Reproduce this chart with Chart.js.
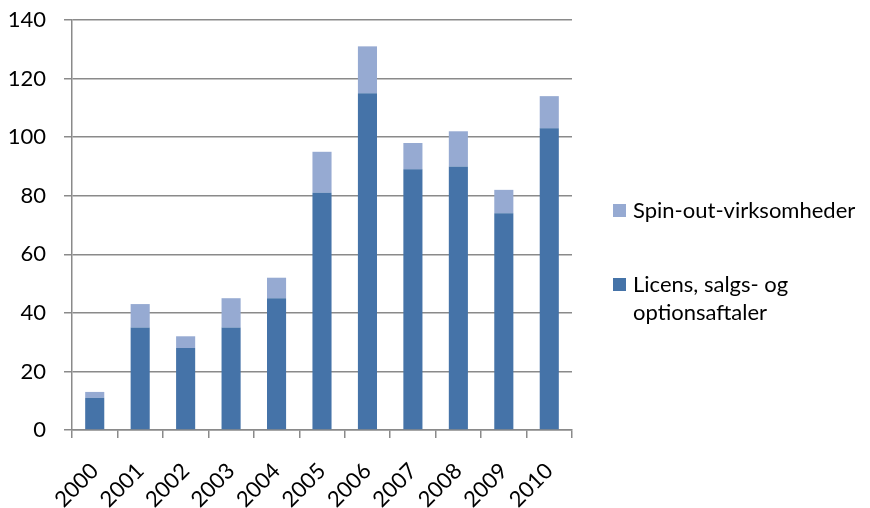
<!DOCTYPE html>
<html lang="da">
<head>
<meta charset="utf-8">
<title>Licenser og spin-outs 2000-2010</title>
<script src="https://cdn.jsdelivr.net/npm/chart.js@4/dist/chart.umd.min.js"></script>
<style>
  html, body { margin: 0; padding: 0; background: #fff; }
  #wrap { position: relative; width: 870px; height: 508px; }
  #chart { position: absolute; left: 0; top: 0; }
  #legend { position: absolute; left: 613px; top: 196px; width: 250px;
            font-family: Lato, "Open Sans", sans-serif; font-size: 22px; color: #000; }
  .item { display: flex; align-items: flex-start; margin-bottom: 46px; line-height: 28px; }
  .box { flex: none; width: 13px; height: 13px; margin: 8px 7px 0 0; }
</style>
</head>
<body>
<div id="wrap">
  <canvas id="chart" width="870" height="508"></canvas>
  <div id="legend"></div>
</div>
<script>
// år på x-aksen
const years = ["2000", "2001", "2002", "2003", "2004", "2005", "2006", "2007", "2008", "2009", "2010"];
// nederste del af søjlen
const licenser = [11, 35, 28, 35, 45, 81, 115, 89, 90, 74, 103];
// øverste del af søjlen
const spinOuts = [2, 8, 4, 10, 7, 14, 16, 9, 12, 8, 11];
const yTicks = [0, 20, 40, 60, 80, 100, 120, 140];

const labelLicens = "Licens, salgs- og optionsaftaler";
const labelSpin = "Spin-out-virksomheder";
const darkBlue = "#4573a8";
const lightBlue = "#96aad2";
const gridGray = "#8a8a8a";
const font = { family: "Lato, 'Open Sans', sans-serif", size: 22 };

const chart = new Chart(document.getElementById("chart"), {
  type: "bar",
  data: {
    labels: years,
    datasets: [
      { label: labelLicens, data: licenser, backgroundColor: darkBlue },
      { label: labelSpin, data: spinOuts, backgroundColor: lightBlue },
    ],
  },
  options: {
    responsive: false,
    animation: false,
    layout: { padding: { left: 0, top: 20, right: 298, bottom: 0 } },
    datasets: { bar: { barPercentage: 0.42, categoryPercentage: 1 } },
    scales: {
      x: {
        stacked: true,
        afterFit: (s) => { s.height = 78; },
        border: { color: gridGray, width: 1.5 },
        grid: { offset: true, drawOnChartArea: false, color: gridGray, lineWidth: 1.5, tickLength: 8 },
        ticks: { color: "#000", font, minRotation: 45, maxRotation: 45, padding: 20 },
      },
      y: {
        stacked: true,
        min: 0,
        max: 140,
        // fast bredde, og tick-padding skal ikke skubbe plotområdet ned
        afterFit: (s) => { s.width = 72; s.paddingTop = 0; s.paddingBottom = 0; },
        afterBuildTicks: (s) => { s.ticks = yTicks.map((v) => ({ value: v })); },
        border: { color: gridGray, width: 1.5 },
        grid: { color: gridGray, lineWidth: 1.5, tickLength: 8 },
        ticks: { color: "#000", font, padding: 18 },
      },
    },
    plugins: { legend: { display: false }, tooltip: { enabled: false } },
  },
});

// legende til højre, øverste serie først
const legend = document.getElementById("legend");
[...chart.data.datasets].reverse().forEach((ds) => {
  const item = document.createElement("div");
  item.className = "item";
  const box = document.createElement("span");
  box.className = "box";
  box.style.background = ds.backgroundColor;
  const txt = document.createElement("span");
  txt.textContent = ds.label;
  item.append(box, txt);
  legend.append(item);
});
</script>
</body>
</html>
